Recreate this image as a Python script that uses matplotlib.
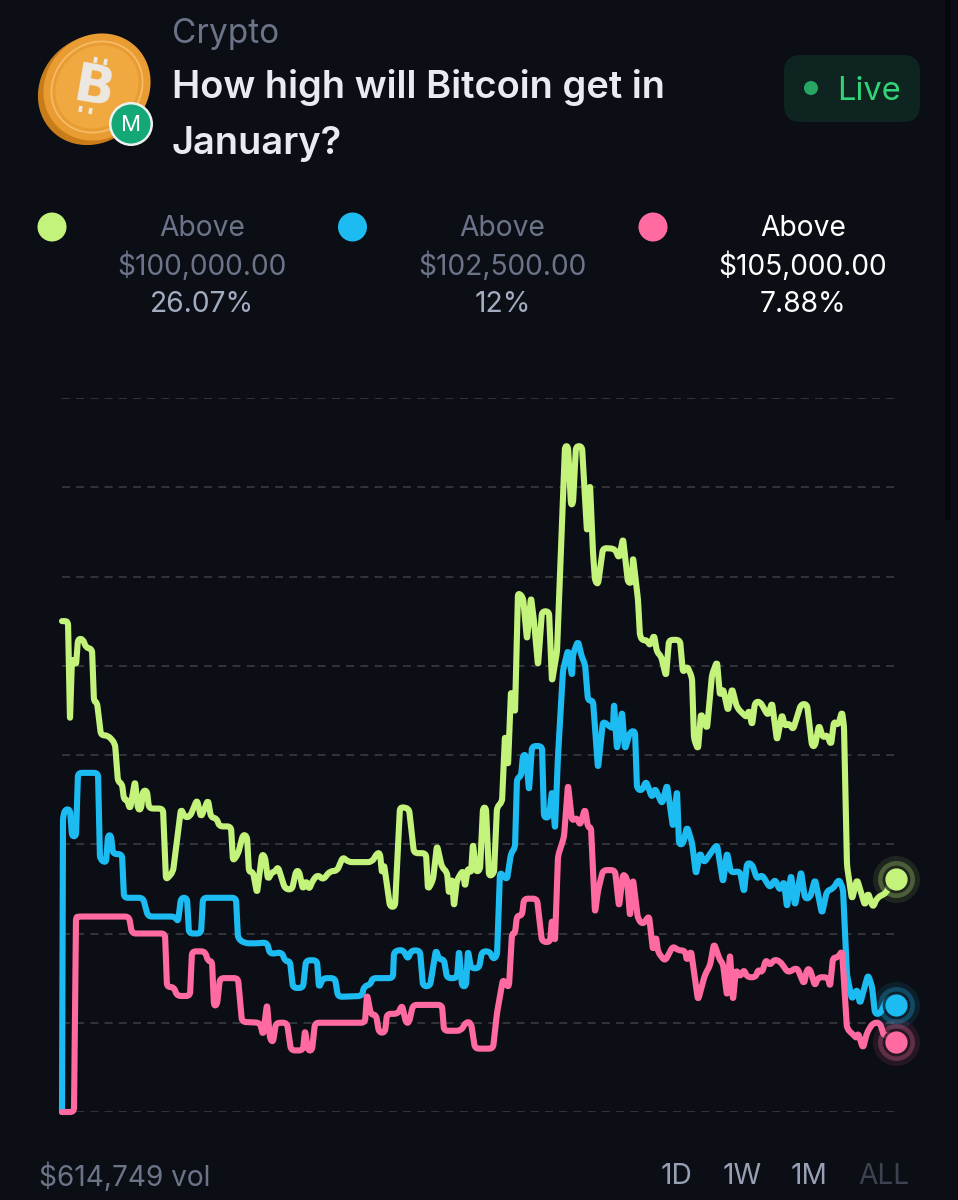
from matplotlib import pyplot as plt
from matplotlib.patches import Ellipse, Circle, FancyBboxPatch, Rectangle, PathPatch
from matplotlib.path import Path
import numpy as np

plt.rcParams['font.family'] = ['Inter', 'DejaVu Sans']

# market odds in percent, (time step, value)
above_100k = [(0,55),(6,55),(8,43.9),(10,50.9),(14,50),(16,53),(21,53),(24,52),(30,51.9),(32,46),(35,45.9),(39,42.2),
    (46,42.2),(53,41.3),(56,37),(60,36.8),(62,35),(65,35),(68,33.9),(73,37.1),(76,33.9),(79,33.9),(81,36),(85,36),
    (87,34),(101,34),(104,26),(111,26.9),(119,34),(123,33),(128,33.1),(135,35),(139,33),(146,35),(149,33),(155,32.9),
    (157,32),(169,32),(171,28.1),(176,28.9),(181,31.1),(185,30.9),(187,26.9),(191,26.9),(195,24.5),(200,28.9),(203,28.6),
    (206,26),(210,26.9),(213,26.9),(216,27.5),(223,25),(230,24.9),(234,27),(237,27),(241,24.9),(244,26),(247,24.9),
    (251,26),(256,26.6),(261,26),(268,27),(275,27),(281,28.6),(286,28),(310,28),(315,29),(318,29),(320,26.7),(322,27.8),
    (328,23),(333,23),(338,34.2),(347,34),(352,29),(364,29),(366,24.9),(371,26),(375,29.9),(380,27.4),(385,26.9),
    (387,24.4),(390,26.2),(392,23),(395,26),(401,27.1),(403,25.2),(406,27.4),(409,26.7),(411,30.1),(414,26.9),(418,27.1),
    (421,34.1),(424,34.1),(427,26.4),(432,26.7),(435,34.2),(440,34.7),(443,42.2),(446,38.8),(449,47.2),(453,44.7),
    (456,58.2),(461,57.7),(465,52.9),(469,57.7),(472,55),(476,50),(480,56.1),(487,56.1),(490,48.2),(495,51.6),(503,74.6),
    (506,74.6),(509,68),(511,68.2),(514,74.6),(520,74.6),(525,65),(528,70.3),(531,62.7),(533,59.5),(536,59.1),(541,63.2),
    (553,63.1),(557,62),(561,64.3),(566,59.3),(570,59.3),(571,62.2),(576,57.4),(578,53.3),(581,52.8),(585,52.9),(588,52.2),
    (592,53.5),(595,51.5),(599,51.1),(604,48.8),(607,52.9),(618,52.9),(621,49.2),(625,50),(630,48.7),(632,41.8),(636,40.6),
    (639,44.7),(645,42.9),(650,49),(655,50.5),(658,46.6),(661,47.5),(666,44.9),(670,47.5),(675,45.3),(681,44.6),(685,44.2),
    (687,45.1),(690,43.3),(693,45.9),(698,46),(706,44.4),(710,45.9),(715,41.6),(720,44.6),(723,43.2),(727,43.6),(731,42.8),
    (739,45.7),(745,45.7),(750,41),(753,41),(757,43.4),(761,41.9),(765,42.3),(769,41.1),(772,43.8),(776,43.3),(780,44.9),
    (782,43.2),(785,27.6),(790,23.8),(795,26.1),(798,25),(803,23.1),(806,24.6),(811,22.9),(815,24),(825,24.6),(828,25.9),
    (834,26.07)]

above_102k = [(0,0),(1,33),(3,33.9),(8,33.9),(10,30.9),(14,30.9),(16,38),(36,38),(38,28.3),(44,27.9),(46,31),(49,31),
    (51,28.9),(60,28.9),(62,24),(81,24),(86,21.9),(113,21.9),(116,21.3),(119,24),(125,24),(127,20),(139,20),(141,24),
    (174,24),(176,19.4),(183,18.9),(195,18.9),(205,19),(208,17.7),(220,17.9),(223,16.9),(228,16.9),(231,13.9),(241,13.9),
    (244,17),(255,17),(257,13.9),(261,15),(273,15),(276,12.9),(300,13),(302,14.1),(309,14.3),(310,15),(331,15),(332,18),
    (341,18.2),(346,17.1),(349,18.1),(358,18.1),(361,14.1),(368,14.1),(374,18.2),(377,17.1),(382,17.1),(385,15),(395,15),
    (397,18.1),(400,14.1),(404,14.1),(406,18.1),(409,16.1),(417,16.1),(420,18),(428,18),(431,17.1),(435,17.5),(438,26.9),
    (445,26),(449,29),(453,29.6),(455,37.4),(459,37.6),(461,40),(464,40),(467,36),(470,41),(480,41),(482,33),(487,33),
    (490,36),(493,31.7),(496,39.9),(501,49.5),(506,51.8),(510,48.8),(511,51.3),(516,52.8),(520,50.9),(523,50.2),(526,46.1),
    (531,46.1),(536,38.5),(541,43.8),(551,42.9),(552,45.8),(555,40.6),(560,44.9),(563,40.6),(568,42.6),(573,42.7),(575,36.2),
    (580,36),(584,37.1),(590,35.2),(593,36.3),(600,34.5),(605,36.7),(611,31.9),(615,36),(617,30),(621,30),(625,32),(630,30.2),
    (634,26.6),(638,29.1),(642,27.9),(648,28.9),(655,30),(661,25.7),(665,29.1),(669,26.8),(678,27),(682,24.6),(685,27.9),
    (690,27.8),(695,26.1),(700,26.6),(708,25.1),(713,26.1),(718,24.8),(722,25.9),(725,22.9),(729,26.6),(733,23.1),(739,27),
    (743,23.9),(748,24),(753,26.1),(760,22.2),(765,24.8),(771,25),(777,26.1),(781,25),(785,15.3),(790,12.6),(795,13.8),
    (798,12.1),(806,15.4),(810,14.1),(813,11),(818,11),(825,12.6),(830,12.8),(834,12)]

above_105k = [(0,0),(12,0),(14,21.8),(16,21.9),(67,21.9),(70,20),(103,20),(105,14),(112,14),(115,13),(128,13),(130,18),
    (143,18),(146,16.9),(150,16.9),(152,11.9),(155,12),(158,15),(176,15),(180,10.1),(198,10),(201,8.6),(205,12.1),(208,8.2),
    (211,7.8),(214,10),(225,10),(229,6.9),(241,6.9),(243,9.2),(246,6.9),(250,6.9),(253,10),(303,10),(305,13.2),(309,10.9),
    (314,10.9),(317,8.9),(323,8.9),(325,11),(336,11),(340,12),(344,10),(347,10),(351,12),(380,12),(382,9.1),(399,9.1),
    (404,10.1),(409,10),(413,7.1),(431,7.1),(435,11.1),(441,14.9),(445,14.1),(447,14.1),(450,20),(453,20),(455,22),(460,22),
    (462,23.9),(475,23.9),(480,19.1),(488,19),(490,21.6),(493,19.1),(496,28.7),(502,30.8),(506,36.7),(510,32.6),(515,33),
    (518,32.1),(523,34),(526,31.9),(529,31.9),(533,22.3),(536,24.8),(541,27.1),(553,27.1),(557,23),(561,26.7),(565,26.2),
    (568,21.9),(571,26.1),(576,21.6),(581,21),(587,22),(591,18.1),(594,19.7),(596,17.9),(603,16.9),(611,18.6),(616,18.1),
    (623,18.1),(625,16.9),(629,18.1),(636,12.5),(643,15.4),(648,16.4),(652,18.9),(658,17),(661,16.6),(665,13),(668,17.7),
    (671,12.5),(674,16),(678,15.1),(682,16),(685,15.1),(694,15.1),(696,16),(700,15.6),(704,17.1),(708,16.4),(712,17.1),
    (718,16.9),(726,15.6),(735,16.2),(742,14.3),(745,16),(748,16),(753,14.1),(756,15.1),(766,15.1),(768,14),(771,17.3),
    (776,17.3),(780,18.1),(781,16.4),(785,9.3),(791,8.7),(795,8.2),(796,8.9),(801,7.1),(805,8.9),(811,10),(818,10),(822,8.5),
    (828,8.7),(834,7.88)]

series_names = ['$100,000.00', '$102,500.00', '$105,000.00']
series_odds = ['26.07%', '12%', '7.88%']
series_colors = ['#c4f37c', '#1cbcf3', '#ff6ba1']
y_ticks = [0, 10, 20, 30, 40, 50, 60, 70, 80]
ranges = ['1D', '1W', '1M', 'ALL']

BG = '#0c0e15'
W, H = 958, 1200
PCT_PX = 714 / 80  # pixels per percent on the chart


def rounded_path(x, y, r=4):
    # rounds each corner of the polyline with a short quadratic curve
    p = np.column_stack([x, y]).astype(float)
    verts = [p[0]]
    codes = [Path.MOVETO]
    for i in range(1, len(p) - 1):
        a, b, c = p[i - 1], p[i], p[i + 1]
        d1 = np.hypot(b[0] - a[0], (b[1] - a[1]) * PCT_PX)
        d2 = np.hypot(c[0] - b[0], (c[1] - b[1]) * PCT_PX)
        f1 = min(r, d1 / 2) / d1
        f2 = min(r, d2 / 2) / d2
        verts += [b + (a - b) * f1, b, b + (c - b) * f2]
        codes += [Path.LINETO, Path.CURVE3, Path.CURVE3]
    verts.append(p[-1])
    codes.append(Path.LINETO)
    return Path(verts, codes)


fig = plt.figure(figsize=(W / 100, H / 100), dpi=100, facecolor=BG)

# overlay in pixel coords for the header and footer
ui = fig.add_axes([0, 0, 1, 1], zorder=2)
ui.set_xlim(0, W)
ui.set_ylim(H, 0)
ui.axis('off')

# chart area
ax = fig.add_axes([62 / W, (H - 1112) / H, 834 / W, 714 / H], facecolor='none', zorder=1)
ax.set_xlim(0, 834)
ax.set_ylim(0, 80)
ax.set_yticks(y_ticks)
ax.set_xticks([])
ax.tick_params(left=False, labelleft=False)
for s in ax.spines.values():
    s.set_visible(False)
ax.grid(axis='y', color='#3d3f45', lw=1.1, linestyle=(0, (5.2, 4.1)))
ax.set_axisbelow(True)

for pts, c in zip([above_100k, above_102k, above_105k], series_colors):
    x, y = zip(*pts)
    ax.add_patch(PathPatch(rounded_path(x, y), fill=False, ec=c, lw=4.4, capstyle='round', joinstyle='round',
                           clip_on=False, zorder=3))
    # end marker with rings
    ax.plot(x[-1], y[-1], 'o', ms=33.8, mfc=c, mec='none', alpha=0.10, clip_on=False, zorder=4)
    ax.plot(x[-1], y[-1], 'o', ms=26.6, mfc=c, mec='none', alpha=0.28, clip_on=False, zorder=4)
    ax.plot(x[-1], y[-1], 'o', ms=20, mfc=BG, mec='none', alpha=0.7, clip_on=False, zorder=4)
    ax.plot(x[-1], y[-1], 'o', ms=16, mfc=c, mec='none', clip_on=False, zorder=5)

# scrollbar strip
ui.add_patch(Rectangle((945, 0), 6, 520, color='#06070a', lw=0))

# coin
ui.add_patch(Ellipse((93, 90), 116, 104, angle=-45, color='#c87c1a', lw=0))
ui.add_patch(Ellipse((97, 87), 112, 102, angle=-45, color='#e99c32', lw=0))
ui.add_patch(Ellipse((97, 87), 96, 86, angle=-45, fill=False, ec='#f6bb66', lw=1.3))
ui.add_patch(Ellipse((97, 87), 88, 78, angle=-45, color='#f0a840', lw=0))
ui.text(93, 88, 'B', color='#ece8e2', fontsize=38, fontweight='bold', family='DejaVu Sans',
        ha='center', va='center', rotation=-10)
for bx, by in [(96, 57), (106, 59), (81, 106), (91, 108)]:
    ui.plot([bx, bx - 1], [by, by + 6], color='#ece8e2', lw=2.6, solid_capstyle='butt')
ui.add_patch(Circle((131, 124), 22, color='#eef3f1', lw=0))
ui.add_patch(Circle((131, 124), 19.5, color='#14a876', lw=0))
ui.text(131, 125, 'M', color='white', fontsize=16, ha='center', va='center')

# header text
ui.text(172, 34, 'Crypto', color='#6b7488', fontsize=24, ha='left', va='center')
ui.text(172, 87, 'How high will Bitcoin get in', color='#e8ebf2', fontsize=27.4, fontweight='semibold', ha='left', va='center')
ui.text(172, 144, 'January?', color='#e8ebf2', fontsize=27.4, fontweight='semibold', ha='left', va='center')

# live badge
ui.add_patch(FancyBboxPatch((784, 55), 136, 67, boxstyle='round,pad=0,rounding_size=17', lw=0, color='#0e2420'))
ui.add_patch(Circle((811, 88), 7, color='#27a862', lw=0))
ui.text(837, 91.5, 'Live', color='#32d47a', fontsize=23.5, ha='left', va='center')

# legend
for i, (name, odds, c) in enumerate(zip(series_names, series_odds, series_colors)):
    dot_x = 52 + i * 300.5
    text_x = 202 + i * 300.5
    selected = i == 2
    ui.add_patch(Circle((dot_x, 227), 14.5, color=c, lw=0))
    ui.text(text_x, 229, 'Above', color='#ffffff' if selected else '#6b7488', fontsize=20.3, ha='center', va='center')
    ui.text(text_x, 266, name, color='#ffffff' if selected else '#6b7488', fontsize=20.3, ha='center', va='center')
    ui.text(text_x, 304, odds, color='#ffffff' if selected else '#a3adc2', fontsize=20.3, ha='center', va='center')

# footer
ui.text(39, 1177, '$614,749 vol', color='#6b7488', fontsize=20.2, ha='left', va='center')
for lab, px, col in zip(ranges, [677, 742, 809, 884], ['#98a1b3', '#98a1b3', '#98a1b3', '#3c4250']):
    ui.text(px, 1177, lab, color=col, fontsize=20.2, ha='center', va='center')

fig.savefig('out.png', dpi=100, facecolor=BG)
